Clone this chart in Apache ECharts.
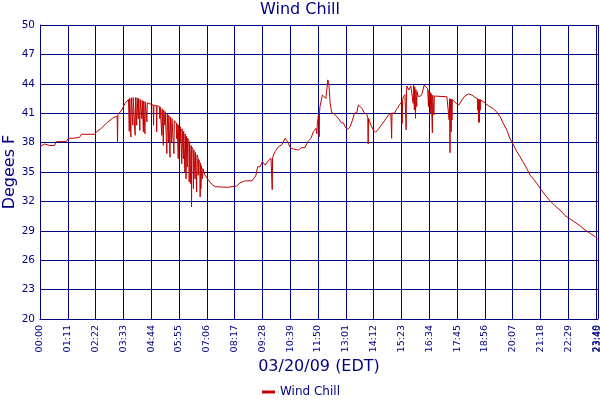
<!DOCTYPE html>
<html lang="en">

<head>
    <meta charset="UTF-8">
    <title>eCharts - Wind Chill</title>
    <script src="https://cdn.jsdelivr.net/npm/echarts@6/dist/echarts.min.js"></script>
    <style>
        body { margin: 0; background: #fff; }
    </style>
</head>

<body>
    <div id="main" style="width: 600px; height: 400px;"></div>
    <script type="text/javascript">
        // minutes after midnight, 03/20/09 (EDT)
        const minutes = [
            0, 12, 25, 37, 42, 67, 73, 84, 86, 101, 106, 140, 144, 157, 170, 187, 197, 198, 199, 209, 217,
            226, 227, 228, 229, 231, 232, 233, 236, 237, 238, 242, 243, 244, 246, 247, 248, 250, 251, 252,
            254, 255, 256, 259, 260, 261, 263, 264, 265, 267, 268, 269, 272, 273, 274, 289, 290, 291,
            297, 298, 299, 305, 306, 307, 310, 311, 312, 314, 315, 316, 318, 319, 320, 323, 324, 325,
            327, 328, 329, 331, 332, 333, 335, 336, 337, 341, 342, 343, 348, 349, 350, 352, 353, 354,
            357, 358, 359, 361, 362, 363, 365, 366, 367, 369, 370, 371, 372, 373, 374, 375, 376, 377,
            380, 381, 382, 384, 385, 386, 387, 388, 391, 392, 393, 395, 396, 397, 399, 400, 401,
            403, 404, 405, 408, 409, 410, 411, 412, 414, 415, 416, 421, 430, 438, 447,
            480, 502, 511, 524, 541, 545, 551, 556, 562, 568, 575, 583, 590, 592, 593, 594, 600, 609,
            617, 626, 632, 639, 647, 660, 668, 677, 684, 692, 698, 705, 706, 707, 708, 711, 712, 713,
            714, 715, 721, 725, 730, 735, 738, 741, 745, 752, 762, 769, 775, 779, 786, 792, 798, 803,
            809, 813, 817, 822, 828, 834, 837, 838, 839, 845, 851, 857, 864, 873, 881, 890, 896, 897,
            898, 899, 905, 911, 918, 924, 925, 926, 928, 932, 934, 935, 936, 937, 942, 947, 952, 953,
            954, 955, 956, 957, 958, 959, 960, 961, 962, 963, 966, 973, 976, 981, 985, 990, 991, 992,
            993, 995, 996, 997, 998, 999, 1001, 1002, 1003, 1005, 1006, 1007, 1009, 1039, 1043, 1044,
            1045, 1046, 1047, 1048, 1050, 1051, 1052, 1053, 1056, 1064, 1070, 1077, 1085, 1094, 1103,
            1111, 1117, 1118, 1119, 1120, 1121, 1122, 1123, 1124, 1125, 1132, 1145, 1158, 1166, 1175,
            1183, 1192, 1200, 1209, 1218, 1226, 1234, 1243, 1251, 1260, 1269, 1277, 1290, 1303, 1315,
            1328, 1341, 1354, 1366, 1379, 1392, 1405, 1418, 1425
        ];

        // wind chill, degrees F
        const windChill = [
            37.6, 37.86, 37.7, 37.7, 38.1, 38.1, 38.44, 38.44, 38.54, 38.54, 38.85, 38.85, 39.1, 39.46, 40.0, 40.54, 40.7, 38.0, 40.85, 41.33, 42.0,
            42.4, 42.45, 39.15, 42.5, 42.55, 38.57, 42.58, 42.6, 39.77, 42.6, 42.6, 38.74, 42.6, 42.6, 39.77, 42.58, 42.55, 40.44, 42.5,
            42.45, 39.25, 42.4, 42.35, 40.44, 42.3, 42.28, 39.08, 42.25, 42.2, 38.9, 42.15, 42.1, 40.1, 42.05, 41.84, 39.77, 41.82,
            41.78, 39.08, 41.77, 41.68, 40.44, 41.65, 41.5, 38.74, 41.45, 41.38, 37.72, 41.3, 41.2, 39.77, 41.15, 41.05, 36.87, 40.96,
            40.85, 38.06, 40.8, 40.7, 36.5, 40.62, 40.52, 38.06, 40.45, 40.28, 36.87, 40.24, 40.0, 38.4, 39.93, 39.85, 36.36, 39.8,
            39.66, 38.06, 39.6, 39.5, 35.85, 39.4, 39.25, 36.36, 39.15, 39.0, 35.0, 38.88, 38.8, 34.3, 38.65, 38.58, 35.5, 38.45,
            38.2, 33.98, 38.1, 37.9, 33.8, 37.7, 31.43, 37.52, 37.3, 33.3, 37.25, 37.13, 34.3, 37.0, 36.85, 32.96, 36.75,
            36.5, 34.66, 36.3, 36.0, 32.45, 35.9, 33.3, 35.65, 35.45, 34.3, 35.35, 34.7, 34.18, 33.78, 33.5,
            33.44, 33.57, 33.9, 34.1, 34.1, 34.0, 34.6, 35.54, 35.54, 36.05, 35.7, 36.15, 36.4, 36.45, 33.2, 36.5, 37.07, 37.58,
            37.76, 38.44, 38.1, 37.5, 37.35, 37.24, 37.48, 37.5, 38.1, 38.44, 39.1, 39.46, 39.5, 38.9, 39.8, 40.82, 40.9, 38.6,
            41.2, 41.67, 42.86, 42.9, 42.5, 44.4, 43.88, 42.0, 41.05, 40.9, 40.48, 40.03, 40.0, 39.62, 39.36, 39.6, 40.3, 41.0,
            41.05, 41.84, 41.94, 41.5, 41.05, 40.9, 40.6, 37.86, 40.48, 39.8, 39.3, 39.05, 39.36, 39.87, 40.3, 40.82, 41.0, 41.0,
            38.44, 41.0, 41.0, 41.4, 41.84, 42.17, 39.97, 42.3, 42.68, 42.9, 42.95, 39.3, 43.3, 43.78, 43.37, 43.78, 43.88, 42.0,
            43.85, 43.8, 41.33, 43.7, 43.6, 40.48, 43.4, 43.3, 41.67, 43.2, 42.7, 42.78, 43.03, 43.88, 44.05, 43.5, 43.4, 41.67,
            43.3, 43.2, 42.0, 43.1, 41.0, 43.0, 42.9, 39.0, 42.85, 42.8, 40.82, 42.75, 42.68, 42.68, 42.5, 42.5,
            40.3, 42.48, 36.97, 42.45, 39.1, 42.42, 40.3, 42.4, 42.35, 41.94, 41.84, 42.35, 42.76, 42.96, 42.86,
            42.6, 42.5, 41.3, 42.45, 40.07, 42.42, 40.07, 42.4, 41.3, 42.35, 42.17, 41.77, 41.43, 41.15, 40.65,
            39.97, 39.29, 38.44, 37.76, 37.07, 36.56, 35.99, 35.38, 34.7, 34.29, 33.84, 33.33, 32.65, 32.04, 31.56,
            31.12, 30.54, 30.2, 29.87, 29.52, 29.08, 28.74, 28.4, 28.1
        ];

        // y tick labels (every 3 degrees from 20 to 50)
        const yTicks = ['20', '23', '26', '29', '32', '35', '38', '41', '44', '47', '50'];

        const navy = '#000080';
        const font = 'DejaVu Sans';
        const xMax = 1425;

        function hhmm(v) {
            const h = Math.floor(v / 60);
            const m = Math.round(v - h * 60);
            return String(h).padStart(2, '0') + ':' + String(m).padStart(2, '0');
        }

        const xLabel = { rotate: 90, margin: 6, color: navy, fontSize: 9.5, fontFamily: font };

        let myChart = echarts.init(document.getElementById('main'));

        const options = {
            animation: false,
            title: {
                text: 'Wind Chill',
                left: 'center',
                top: 0,
                padding: [2, 5],
                textStyle: { color: navy, fontSize: 16, fontWeight: 'normal', fontFamily: font }
            },
            legend: {
                data: ['Wind Chill'],
                left: 257,
                top: 381,
                icon: 'rect',
                itemWidth: 13,
                itemHeight: 3,
                textStyle: { color: navy, fontSize: 12, fontFamily: font }
            },
            grid: { left: 40, right: 2, top: 25, bottom: 81, outerBoundsMode: 'none' },
            xAxis: [
                {
                    type: 'value',
                    min: 0,
                    max: xMax,
                    interval: 71,
                    position: 'bottom',
                    name: '03/20/09 (EDT)',
                    nameLocation: 'middle',
                    nameGap: 40,
                    nameMoveOverlap: false,
                    nameTextStyle: { color: navy, fontSize: 16, fontFamily: font },
                    axisLine: { lineStyle: { color: navy } },
                    axisTick: { show: false },
                    splitLine: { lineStyle: { color: navy, width: 1 } },
                    axisLabel: Object.assign({ showMaxLabel: false, formatter: hhmm }, xLabel)
                },
                {
                    // only carries the end-of-day label, which overlaps 23:40
                    type: 'value',
                    min: 0,
                    max: xMax,
                    interval: 71,
                    position: 'bottom',
                    axisLine: { show: false },
                    axisTick: { show: false },
                    splitLine: { show: false },
                    axisLabel: Object.assign({
                        showMaxLabel: true,
                        formatter: v => (v === xMax ? hhmm(v) : '')
                    }, xLabel)
                }
            ],
            yAxis: [
                {
                    // data axis
                    type: 'value',
                    min: 20,
                    max: 50,
                    show: false
                },
                {
                    // visible axis with ticks every 3 degrees
                    type: 'category',
                    data: yTicks,
                    boundaryGap: false,
                    position: 'left',
                    name: 'Degees F',
                    nameLocation: 'middle',
                    nameGap: 22,
                    nameMoveOverlap: false,
                    nameTextStyle: { color: navy, fontSize: 16, fontFamily: font },
                    axisLine: { lineStyle: { color: navy } },
                    axisTick: { show: false },
                    splitLine: { show: true, interval: 0, lineStyle: { color: navy, width: 1 } },
                    axisLabel: { interval: 0, margin: 5, color: navy, fontSize: 10.5, fontFamily: font }
                }
            ],
            series: [{
                name: 'Wind Chill',
                type: 'line',
                xAxisIndex: 0,
                yAxisIndex: 0,
                showSymbol: false,
                symbol: 'none',
                itemStyle: { color: '#c00000' },
                lineStyle: { color: '#c00000', width: 1 },
                data: minutes.map((t, i) => [t, windChill[i]])
            }]
        };

        myChart.setOption(options);
    </script>
</body>

</html>
